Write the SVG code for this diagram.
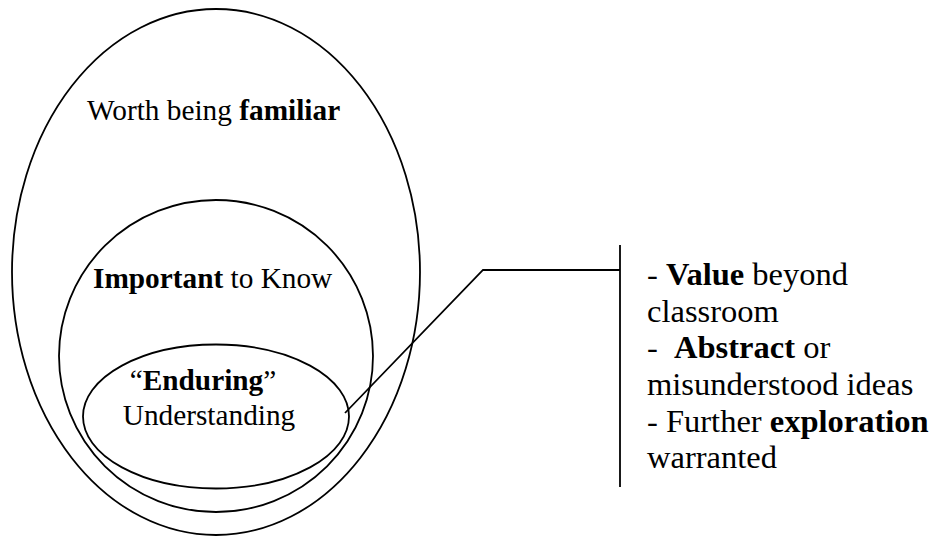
<svg xmlns="http://www.w3.org/2000/svg" width="939" height="537" viewBox="0 0 939 537">
<style>
.shape{fill:none;stroke:#000;stroke-width:1.8}
.line{fill:none;stroke:#000;stroke-width:1.8}
.lbl{font-family:"Liberation Serif","Times New Roman",serif;font-size:29.3px;fill:#000}
.note{font-family:"Liberation Serif","Times New Roman",serif;font-size:32.5px;fill:#000;white-space:pre}
.b{font-weight:bold}
</style>
<rect width="939" height="537" fill="#fff"/>
<g id="familiar">
<ellipse class="shape" cx="216" cy="272" rx="204" ry="263"/>
<text class="lbl" x="87" y="120">Worth being <tspan class="b">familiar</tspan></text>
</g>
<g id="important">
<ellipse class="shape" cx="216" cy="356" rx="157" ry="156"/>
<text class="lbl" x="93" y="288"><tspan class="b">Important</tspan> to Know</text>
</g>
<g id="enduring">
<ellipse class="shape" cx="216" cy="416.5" rx="133" ry="72"/>
<text class="lbl" x="203" y="390" text-anchor="middle">“<tspan class="b">Enduring</tspan>”</text>
<text class="lbl" x="209" y="425" text-anchor="middle">Understanding</text>
</g>
<g id="connectors">
<polyline class="line" points="345,413 483,270 620,270"/>
<line class="line" x1="620" y1="245" x2="620" y2="487"/>
</g>
<g id="notes">
<text class="note" x="647" y="285">- <tspan class="b">Value</tspan> beyond</text>
<text class="note" x="647" y="322">classroom</text>
<text class="note" x="647" y="358">-  <tspan class="b">Abstract</tspan> or</text>
<text class="note" x="647" y="395">misunderstood ideas</text>
<text class="note" x="647" y="432">- Further <tspan class="b">exploration</tspan></text>
<text class="note" x="647" y="468">warranted</text>
</g>
</svg>
